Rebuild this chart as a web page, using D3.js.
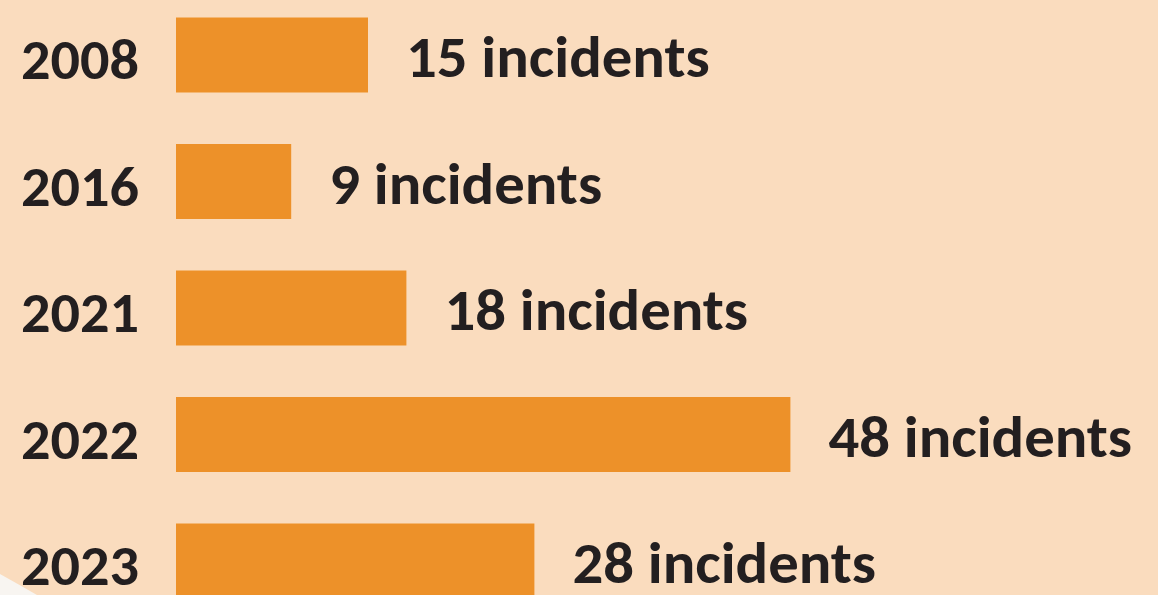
<!DOCTYPE html>
<html>
<head>
<meta charset="utf-8">
<script src="https://cdn.jsdelivr.net/npm/d3@7"></script>
<style>
  html, body { margin: 0; padding: 0; background: #FADCBE; overflow: hidden; }
  svg { display: block; }
  text { font-family: Carlito, Lato, "Open Sans", sans-serif; font-weight: 700; fill: #231F20; }
</style>
</head>
<body>
<svg id="chart" width="1158" height="595"></svg>
<script>
const years = ["2008", "2016", "2021", "2022", "2023"];
const incidents = [15, 9, 18, 48, 28];
const unitLabel = "incidents";

const W = 1158, H = 595;
const svg = d3.select("#chart");

svg.append("rect").attr("width", W).attr("height", H).attr("fill", "#FADCBE");

// decorative light corner shape (bottom-left)
svg.append("path")
  .attr("d", "M0,574 Q18,584 37,595 L0,595 Z")
  .attr("fill", "#F8F5F1");

const data = years.map((y, i) => ({ year: y, value: incidents[i] }));

const x = d3.scaleLinear().domain([0, 50]).range([176, 816]);
const y = d3.scalePoint().domain(years).range([55, 561]);
const barH = 75;

svg.selectAll("rect.bar").data(data).enter().append("rect")
  .attr("class", "bar")
  .attr("x", x(0))
  .attr("y", d => y(d.year) - barH / 2)
  .attr("width", d => x(d.value) - x(0))
  .attr("height", barH)
  .attr("fill", "#ED9129");

svg.selectAll("text.year").data(data).enter().append("text")
  .attr("class", "year")
  .attr("text-anchor", "end")
  .attr("font-size", 56)
  .attr("transform", d => `translate(139,${y(d.year) + 24}) scale(1.04,1)`)
  .text(d => d.year);

svg.selectAll("text.val").data(data).enter().append("text")
  .attr("class", "val")
  .attr("font-size", 59)
  .attr("transform", d => `translate(${x(d.value) + 38},${y(d.year) + 22}) scale(1.03,1)`)
  .text(d => `${d.value} ${unitLabel}`);
</script>
</body>
</html>
